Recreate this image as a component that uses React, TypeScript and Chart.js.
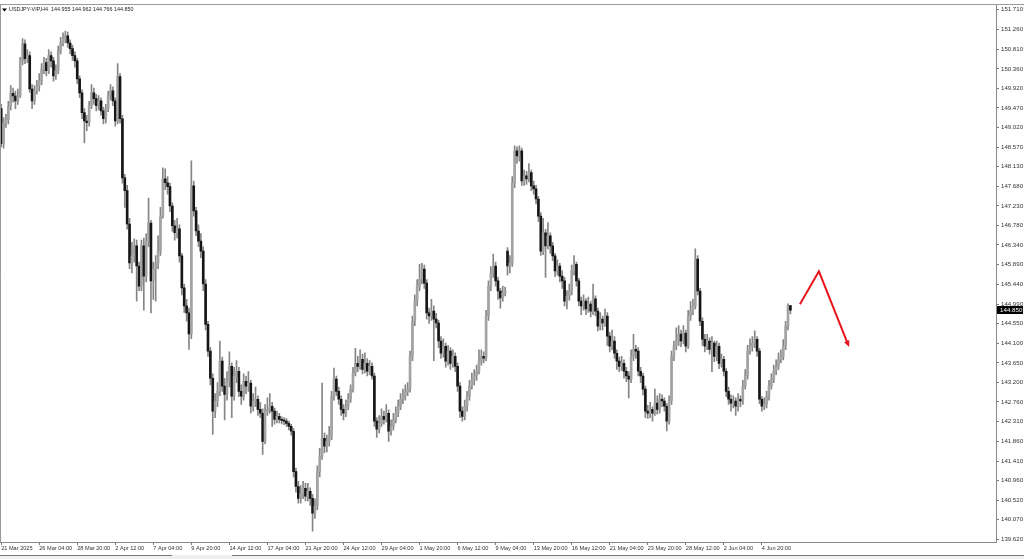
import React, { useEffect, useRef } from 'react';
import { Chart, registerables } from 'chart.js';

Chart.register(...registerables);

// ---- Data (USDJPY H4) ----
const symbolTitle = 'USDJPY-VIP,H4';
const firstOpen = 149.45;
const gapOpens: Record<number, number> = { 213: 146.2 };

const closes = [
  148.65,149.13,149.20,149.50,149.80,149.74,149.63,149.74,150.54,150.93,150.59,150.66,149.90,149.63,149.86,149.97,
  150.09,150.36,150.50,150.32,150.66,150.54,150.20,150.32,150.77,150.95,151.05,151.11,150.95,150.82,150.66,150.54,
  150.13,149.81,149.36,149.17,149.13,149.52,149.81,149.68,149.52,149.63,149.40,149.22,149.45,149.74,149.86,149.63,
  149.17,150.18,149.22,147.87,147.58,146.82,145.93,146.09,146.32,145.86,145.40,146.32,145.63,146.43,146.84,145.52,
  145.79,145.93,146.20,147.00,147.85,147.76,147.67,147.23,146.78,146.62,146.71,146.09,145.36,144.95,144.79,144.31,
  147.69,147.12,146.66,146.43,146.20,145.45,144.53,143.92,143.30,142.55,142.78,143.00,143.69,143.12,142.93,143.23,
  143.57,142.89,143.35,143.46,143.00,142.89,143.23,143.12,143.19,142.66,142.78,142.82,142.59,142.50,141.86,142.55,
  142.59,142.66,142.55,142.36,142.43,142.36,142.34,142.32,142.27,142.20,142.09,141.17,140.83,140.56,140.67,140.79,
  140.61,140.72,140.56,140.22,140.38,141.17,141.52,141.93,141.75,141.86,141.98,142.89,143.28,143.00,142.82,142.59,
  142.50,142.66,142.82,143.05,143.42,143.64,143.57,143.73,143.50,143.64,143.46,143.57,143.35,142.32,142.14,142.27,
  142.43,142.36,142.50,142.09,142.20,142.36,142.50,142.66,142.82,142.89,143.00,143.05,143.80,144.60,145.06,145.40,
  145.56,145.79,145.47,144.79,144.72,144.83,144.65,144.56,144.15,143.87,144.03,143.69,143.92,143.64,143.80,143.57,
  143.12,142.55,142.43,142.66,142.89,143.12,143.28,143.35,143.46,143.69,143.80,143.76,144.72,145.40,145.70,145.86,
  145.52,145.29,145.13,145.24,145.29,145.86,145.93,147.76,148.49,148.37,148.49,147.80,147.92,147.85,147.99,147.69,
  147.62,147.39,147.00,146.20,146.62,146.32,146.55,146.32,146.09,145.75,145.86,145.63,145.52,145.06,145.17,145.29,
  145.75,145.90,145.52,145.06,144.95,145.06,144.88,144.99,144.83,145.11,144.83,144.49,144.65,144.56,144.72,144.26,
  144.03,144.15,143.87,143.69,143.57,143.64,143.46,143.35,143.28,143.80,143.96,143.92,143.46,143.35,143.05,142.55,
  142.50,142.59,142.50,142.73,142.59,142.82,142.78,142.66,142.32,142.78,143.80,144.03,144.15,144.31,144.15,144.33,
  144.03,144.72,144.83,144.95,146.02,145.29,144.60,144.19,144.03,144.15,143.96,144.10,143.80,144.03,143.64,143.73,
  143.46,143.00,142.82,142.73,142.78,142.66,142.82,142.78,143.12,143.35,143.92,144.03,144.10,144.19,143.92,142.82,
  142.66,142.71,142.89,143.12,143.28,143.46,143.57,143.73,143.80,144.03,144.49,144.955,144.85,
];

const highs = [
  149.55,149.25,149.32,149.62,149.98,149.92,149.85,149.90,150.62,151.05,151.02,150.80,150.75,150.00,149.98,150.10,
  150.25,150.48,150.62,150.60,150.80,150.75,150.62,150.45,150.88,151.08,151.18,151.22,151.20,151.02,150.90,150.75,
  150.60,150.20,149.88,149.45,149.30,149.62,150.00,149.92,149.78,149.75,149.70,149.48,149.55,149.85,150.00,149.95,
  149.70,150.48,150.25,149.30,147.95,147.70,146.95,146.40,146.48,146.45,145.95,146.45,146.50,146.60,147.41,146.90,
  145.95,146.10,146.55,147.20,148.10,148.08,147.90,147.75,147.30,146.90,146.95,146.80,146.15,145.45,145.10,144.90,
  148.26,147.80,147.20,146.80,146.60,146.30,145.55,144.60,144.00,143.40,142.95,143.20,144.15,143.78,143.30,143.45,
  143.90,143.65,143.55,143.70,143.55,143.15,143.40,143.35,143.45,143.25,142.95,143.10,142.90,142.75,142.60,142.70,
  142.85,142.95,142.75,142.62,142.55,142.50,142.42,142.40,142.38,142.32,142.25,142.15,141.25,140.95,140.85,140.95,
  140.90,140.90,140.80,140.65,140.55,141.30,141.70,143.19,142.05,142.00,142.20,143.00,143.53,143.35,143.10,142.90,
  142.70,142.80,142.95,143.15,143.55,143.98,143.80,143.95,143.85,143.88,143.75,143.70,143.65,143.42,142.40,142.45,
  142.60,142.55,142.70,142.58,142.35,142.50,142.65,142.80,142.95,143.05,143.15,143.20,143.92,144.72,145.20,145.55,
  145.90,145.92,145.88,145.55,144.90,145.10,144.95,144.78,144.62,144.25,144.20,144.10,144.05,144.00,143.95,143.88,
  143.65,143.20,142.65,142.80,143.00,143.25,143.42,143.50,143.60,143.95,143.95,143.90,144.85,145.52,145.85,146.13,
  145.95,145.60,145.35,145.40,145.38,146.28,146.10,147.90,148.60,148.58,148.60,148.55,148.05,148.02,148.20,148.05,
  147.80,147.70,147.45,147.08,146.95,146.70,146.85,146.62,146.40,146.15,146.00,145.92,145.75,145.60,145.30,145.45,
  145.88,146.10,145.95,145.58,145.15,145.20,145.12,145.15,145.05,145.45,145.18,144.90,144.80,144.72,144.88,144.80,
  144.35,144.40,144.25,143.95,143.78,143.80,143.72,143.55,143.45,143.95,144.30,144.05,144.00,143.55,143.42,143.12,
  142.68,142.75,142.65,143.05,142.90,142.95,142.92,142.85,142.72,142.90,143.92,144.15,144.45,144.50,144.40,144.50,
  144.40,144.85,145.05,145.10,146.25,146.10,145.35,144.68,144.30,144.30,144.22,144.25,144.15,144.15,144.10,143.85,
  143.80,143.52,143.10,142.92,142.90,142.85,142.95,142.90,143.25,143.50,144.05,144.20,144.25,144.38,144.25,143.98,
  142.88,142.85,143.00,143.25,143.40,143.60,143.72,143.88,143.95,144.18,144.60,145.00,144.962,
];

const lows = [
  148.58,148.55,149.02,149.10,149.42,149.60,149.45,149.55,149.70,150.45,150.48,150.50,149.82,149.45,149.55,149.78,
  149.85,150.00,150.25,150.20,150.25,150.40,150.08,150.12,150.25,150.70,150.88,150.95,150.85,150.70,150.55,150.40,
  150.02,149.70,149.22,148.67,148.95,149.05,149.45,149.55,149.40,149.42,149.30,149.10,149.12,149.38,149.65,149.52,
  149.05,149.10,149.12,147.75,147.20,146.70,145.80,145.70,145.95,145.06,145.30,145.30,144.85,145.50,146.30,144.79,
  145.10,145.06,145.80,146.10,146.95,147.60,147.50,147.10,146.65,146.45,146.50,145.95,145.20,144.80,144.60,143.96,
  144.20,147.00,146.55,146.30,146.05,145.30,144.40,143.80,143.15,142.02,142.40,142.65,142.90,143.00,142.35,142.80,
  143.10,142.40,142.80,143.20,142.88,142.70,142.80,142.95,143.00,142.50,142.55,142.65,142.45,142.40,141.56,141.80,
  142.45,142.50,142.20,142.25,142.28,142.28,142.26,142.24,142.20,142.12,142.00,141.05,140.70,140.45,140.45,140.55,
  140.50,140.50,140.40,139.81,140.10,140.30,141.05,141.45,141.60,141.62,141.75,141.90,142.80,142.90,142.70,142.45,
  142.35,142.42,142.58,142.75,142.98,143.35,143.45,143.50,143.40,143.42,143.35,143.38,143.28,142.20,141.95,142.05,
  142.20,142.25,142.30,141.86,142.00,142.12,142.28,142.42,142.58,142.72,142.80,142.90,142.98,143.70,144.50,144.95,
  145.30,145.45,145.35,144.65,144.55,144.62,143.70,144.45,144.00,143.75,143.78,143.55,143.60,143.50,143.55,143.45,
  143.00,142.40,142.32,142.35,142.55,142.80,143.05,143.15,143.25,143.40,143.60,143.65,143.70,144.62,145.30,145.60,
  145.40,145.10,144.90,145.05,145.18,145.65,145.70,145.85,147.65,148.20,148.25,147.70,147.70,147.72,147.78,147.58,
  147.50,147.28,146.88,146.10,146.12,145.60,146.25,146.15,145.98,145.62,145.65,145.50,145.35,144.95,144.88,145.08,
  145.20,145.65,145.40,144.95,144.75,144.85,144.75,144.80,144.70,144.75,144.72,144.38,144.40,144.40,144.48,144.05,
  143.90,143.95,143.75,143.50,143.45,143.48,143.30,143.22,142.85,143.20,143.70,143.75,143.35,143.20,142.92,142.40,
  142.38,142.40,142.32,142.45,142.48,142.50,142.65,142.55,142.10,142.25,142.70,143.70,143.95,144.05,144.02,144.08,
  143.90,143.98,144.62,144.75,144.88,145.20,144.50,144.05,143.90,143.95,143.85,143.45,143.68,143.70,143.52,143.55,
  143.35,142.88,142.70,142.55,142.62,142.45,142.55,142.65,142.70,143.05,143.28,143.85,143.92,144.00,143.80,142.72,
  142.55,142.58,142.62,142.80,143.05,143.20,143.38,143.50,143.65,143.72,143.95,144.40,144.766,
];

// one label every 16 bars, starting at bar 0
const labelStep = 16;
const dateLabels = [
  '21 Mar 2025', '26 Mar 04:00', '28 Mar 20:00', '2 Apr 12:00', '7 Apr 04:00', '9 Apr 20:00',
  '14 Apr 12:00', '17 Apr 04:00', '21 Apr 20:00', '24 Apr 12:00', '29 Apr 04:00', '1 May 20:00',
  '6 May 12:00', '9 May 04:00', '13 May 20:00', '16 May 12:00', '21 May 04:00', '23 May 20:00',
  '28 May 12:00', '2 Jun 04:00', '4 Jun 20:00',
];

const priceTicks = [
  151.71, 151.26, 150.81, 150.36, 149.92, 149.47, 149.02, 148.57, 148.13, 147.68, 147.23, 146.78,
  146.34, 145.89, 145.44, 144.99, 144.55, 144.10, 143.65, 143.20, 142.76, 142.31, 141.86, 141.41,
  140.96, 140.52, 140.07, 139.62,
];
const priceMin = 139.563;
const priceMax = 151.801;

// total bar slots visible in the window (data + right shift space)
const totalSlots = 419;

// red projection arrow: [bar index, price]
const arrowIdx = [336.0, 344.0, 356.7];
const arrowPrice = [144.99, 145.74, 144.01];

const FONT = '"Liberation Sans", Arial, sans-serif';

const opens = closes.map((c, i) =>
  i === 0 ? firstOpen : gapOpens[i] !== undefined ? gapOpens[i] : closes[i - 1]
);

const mtPlugin = {
  id: 'mtExtras',
  afterDraw(chart: any) {
    const { ctx, chartArea, scales } = chart;
    const x = scales.x;
    const y = scales.y;
    const W = chart.width;
    ctx.save();
    // window frame
    ctx.strokeStyle = '#9a9a9a';
    ctx.lineWidth = 1;
    ctx.beginPath();
    ctx.moveTo(0, 4.5);
    ctx.lineTo(W, 4.5);
    ctx.stroke();
    ctx.beginPath();
    ctx.moveTo(0.5, 4.5);
    ctx.lineTo(0.5, chartArea.bottom);
    ctx.stroke();
    // bottom strip
    ctx.fillStyle = '#f0f0f0';
    ctx.fillRect(0, 555, W, 4);
    ctx.strokeStyle = '#7a7a7a';
    ctx.beginPath();
    ctx.moveTo(0, 555.5);
    ctx.lineTo(172, 555.5);
    ctx.moveTo(232, 555.5);
    ctx.lineTo(W, 555.5);
    ctx.stroke();

    // header
    ctx.fillStyle = '#000';
    ctx.beginPath();
    ctx.moveTo(2, 8.5);
    ctx.lineTo(7, 8.5);
    ctx.lineTo(4.5, 11.5);
    ctx.closePath();
    ctx.fill();
    ctx.font = `5.4px ${FONT}`;
    ctx.textAlign = 'left';
    ctx.textBaseline = 'middle';
    const last = closes.length - 1;
    const header = `${symbolTitle}  ${opens[last].toFixed(3)} ${highs[last].toFixed(3)} ${lows[last].toFixed(3)} ${closes[last].toFixed(3)}`;
    ctx.fillStyle = '#222';
    ctx.fillText(header, 9, 10);

    // current price tag
    const py = y.getPixelForValue(closes[last]);
    ctx.fillStyle = '#000';
    ctx.fillRect(chartArea.right + 1, Math.round(py) - 4, 26, 8);
    ctx.fillStyle = '#fff';
    ctx.font = `6.2px ${FONT}`;
    ctx.fillText(closes[last].toFixed(3), chartArea.right + 4, Math.round(py));

    // arrow
    const pts = arrowIdx.map((v, i) => [x.getPixelForValue(v), y.getPixelForValue(arrowPrice[i])]);
    ctx.strokeStyle = '#e8141b';
    ctx.fillStyle = '#e8141b';
    ctx.lineWidth = 2;
    ctx.lineJoin = 'miter';
    const [ex, ey] = pts[2];
    const [sx, sy] = pts[1];
    const ang = Math.atan2(ey - sy, ex - sx);
    const head = 7;
    const bx = ex - Math.cos(ang) * head * 0.8;
    const by = ey - Math.sin(ang) * head * 0.8;
    ctx.beginPath();
    ctx.moveTo(pts[0][0], pts[0][1]);
    ctx.lineTo(pts[1][0], pts[1][1]);
    ctx.lineTo(bx, by);
    ctx.stroke();
    ctx.beginPath();
    ctx.moveTo(ex, ey);
    ctx.lineTo(ex - Math.cos(ang - 0.4) * head, ey - Math.sin(ang - 0.4) * head);
    ctx.lineTo(ex - Math.cos(ang + 0.4) * head, ey - Math.sin(ang + 0.4) * head);
    ctx.closePath();
    ctx.fill();
    ctx.restore();
  },
};

export default function App() {
  const ref = useRef<HTMLCanvasElement>(null);

  useEffect(() => {
    document.body.style.margin = '0';
    const canvas = ref.current;
    if (!canvas) return;
    const labels = Array.from({ length: totalSlots }, (_, i) => String(i));
    const bodyColors = closes.map((c, i) => (c >= opens[i] ? '#a3a3a3' : '#161616'));
    const chart = new Chart(canvas, {
      type: 'bar',
      data: {
        labels,
        datasets: [
          {
            label: 'wick',
            data: lows.map((l, i) => [l, highs[i]]) as any,
            backgroundColor: '#858585',
            barThickness: 1,
            grouped: false,
            order: 1,
          },
          {
            label: 'body',
            data: opens.map((o, i) => [o, closes[i]]) as any,
            backgroundColor: bodyColors,
            barThickness: 2,
            minBarLength: 1,
            grouped: false,
            order: 0,
          },
        ],
      },
      options: {
        animation: false,
        responsive: false,
        maintainAspectRatio: false,
        layout: { padding: { top: 5, left: 0, right: 0, bottom: 0 } },
        plugins: { legend: { display: false }, tooltip: { enabled: false } },
        scales: {
          x: {
            type: 'category',
            offset: true,
            grid: { display: true, drawOnChartArea: false, drawTicks: true, tickLength: 3, color: '#7a7a7a', offset: false },
            border: { display: true, color: '#8a8a8a' },
            ticks: {
              autoSkip: false,
              maxRotation: 0,
              minRotation: 0,
              align: 'start',
              padding: 0,
              color: '#333',
              font: { family: FONT, size: 5.6 },
              callback: (v: any) => dateLabels[Number(v) / labelStep] ?? '',
            },
            afterBuildTicks: (s: any) => {
              s.ticks = s.ticks.filter(
                (t: any) => t.value % labelStep === 0 && t.value / labelStep < dateLabels.length
              );
            },
            afterFit: (s: any) => {
              s.height = 17;
            },
          },
          y: {
            position: 'right',
            min: priceMin,
            max: priceMax,
            grid: { display: true, drawOnChartArea: false, drawTicks: true, tickLength: 3, color: '#7a7a7a' },
            border: { display: true, color: '#8a8a8a' },
            ticks: {
              autoSkip: false,
              padding: 2,
              color: '#333',
              font: { family: FONT, size: 6.1 },
              callback: (v: any) => Number(v).toFixed(3),
            },
            afterBuildTicks: (s: any) => {
              s.ticks = priceTicks.map((v) => ({ value: v }));
            },
            afterFit: (s: any) => {
              s.width = 28;
            },
          },
        },
      },
      plugins: [mtPlugin],
    });
    return () => chart.destroy();
  }, []);

  return (
    <div style={{ width: 1024, height: 559, position: 'relative', background: '#fff' }}>
      <canvas ref={ref} width={1024} height={559} style={{ display: 'block' }} />
    </div>
  );
}
